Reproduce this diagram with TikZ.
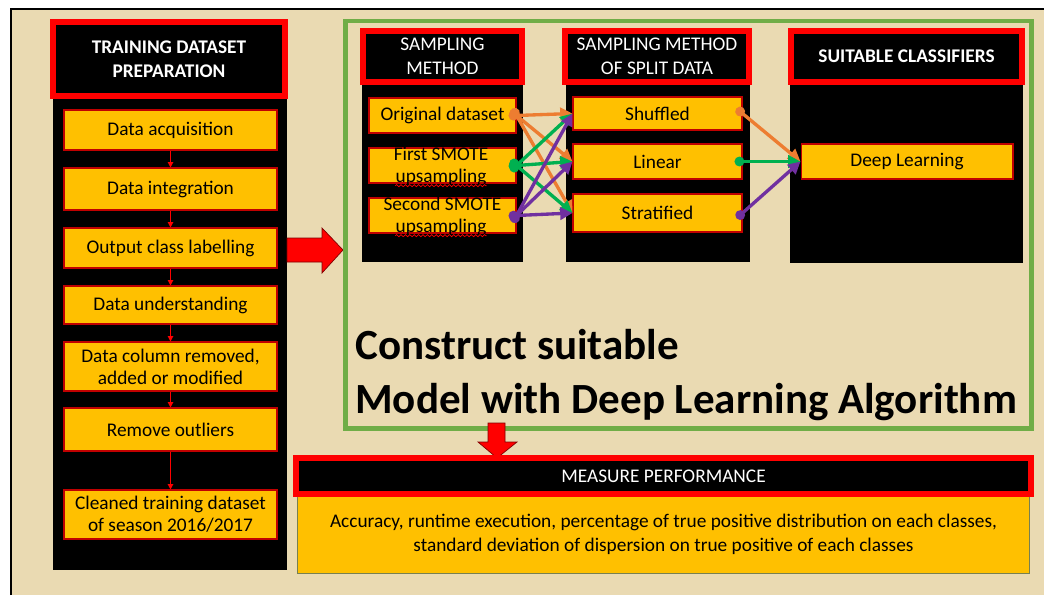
\documentclass[tikz,border=0pt]{standalone}
\usepackage{fontspec}
\setmainfont{Carlito}
\usetikzlibrary{arrows.meta,decorations.pathmorphing}

\begin{document}
\begin{tikzpicture}[x=0.02cm, y=-0.02cm]
  \definecolor{paper}{RGB}{234,218,178}
  \definecolor{gold}{RGB}{255,192,0}
  \definecolor{edgered}{RGB}{192,0,0}
  \definecolor{framegreen}{RGB}{112,173,71}
  \definecolor{bodyedge}{RGB}{120,128,80}
  \definecolor{linkorange}{RGB}{237,125,49}
  \definecolor{linkgreen}{RGB}{0,176,80}
  \definecolor{linkpurple}{RGB}{112,48,160}
  \tikzset{
    txt/.style={font=\fontsize{11}{12.5}\selectfont, align=center},
    hdr/.style={font=\fontsize{11}{13.5}\selectfont, align=center, fill=black, draw=red, line width=0.12cm, text=white, inner sep=0pt},
    stepbox/.style={txt, fill=gold, draw=edgered, line width=0.6pt, inner sep=1pt},
    flow/.style={draw=red, line width=0.6pt, -{Triangle[length=3pt,width=3pt]}},
    link/.style={line width=1.9pt, shorten <=-4.5pt, {Circle[length=5.5pt]}-{Triangle[length=7pt,width=7pt]}},
    wavy/.style={red, line width=0.4pt, decorate, decoration={snake, amplitude=0.6pt, segment length=2.5pt}},
    bigarrow/.style={fill=red, draw=red!50!black, line width=0.4pt},
  }

  % page and paper background
  \useasboundingbox (0,0) rectangle (1044,595);
  \fill[white] (0,0) rectangle (1044,595);
  \fill[paper] (11,9) rectangle (1044,595);
  \draw[line width=0.04cm] (11,595) -- (11,9) -- (1044,9);

  % training dataset preparation column
  \fill[black] (53,96) rectangle (287,570);
  \node[hdr, font=\fontsize{11}{13.5}\selectfont\bfseries, minimum width=4.64cm, minimum height=1.48cm] (prep) at (169,59) {TRAINING DATASET\\PREPARATION};
  \node[stepbox, minimum width=4.26cm, minimum height=0.8cm] (acq) at (170.5,130) {Data acquisition};
  \node[stepbox, minimum width=4.26cm, minimum height=0.84cm] (integ) at (170.5,189) {Data integration};
  \node[stepbox, minimum width=4.26cm, minimum height=0.8cm] (label) at (170.5,248) {Output class labelling};
  \node[stepbox, minimum width=4.26cm, minimum height=0.76cm] (under) at (170.5,305) {Data understanding};
  \node[stepbox, minimum width=4.26cm, minimum height=0.98cm] (modif) at (170.5,366.5) {Data column removed,\\added or modified};
  \node[stepbox, minimum width=4.26cm, minimum height=0.86cm] (outl) at (170.5,429.5) {Remove outliers};
  \node[stepbox, minimum width=4.26cm, minimum height=0.98cm] (clean) at (170.5,514.5) {Cleaned training dataset\\of season 2016/2017};
  \draw[flow] (acq) -- (integ);
  \draw[flow] (integ) -- (label);
  \draw[flow] (label) -- (under);
  \draw[flow] (under) -- (modif);
  \draw[flow] (modif) -- (outl);
  \draw[flow] (outl) -- (clean);

  % arrow into the model block
  \filldraw[bigarrow] (287,238) -- (322,238) -- (322,228) -- (343,250) -- (322,273) -- (322,262) -- (287,262) -- cycle;

  % model block frame
  \draw[framegreen, line width=0.1cm] (345,21) rectangle (1031,428);

  % sampling method
  \fill[black] (362,82) rectangle (523,262);
  \node[hdr, minimum width=3.18cm, minimum height=1.02cm] (samp) at (442.5,56.5) {SAMPLING\\METHOD};
  \node[stepbox, minimum width=2.94cm, minimum height=0.7cm] (orig) at (442.5,115.5) {Original dataset};
  \node[stepbox, minimum width=2.94cm, minimum height=0.7cm] (smoteA) at (442.5,165.5) {};
  \node[txt, anchor=base, inner sep=0pt] (smoteAtop) at (441,160) {First SMOTE};
  \node[txt, anchor=base, inner sep=0pt] (smoteAbot) at (441,182) {upsampling};
  \node[stepbox, minimum width=2.94cm, minimum height=0.7cm] (smoteB) at (442.5,215.5) {};
  \node[txt, anchor=base, inner sep=0pt] (smoteBtop) at (442.5,210) {Second SMOTE};
  \node[txt, anchor=base, inner sep=0pt] (smoteBbot) at (441,232) {upsampling};
  \draw[wavy] (smoteAbot.south west) -- (smoteAbot.south east);
  \draw[wavy] (smoteBbot.south west) -- (smoteBbot.south east);

  % sampling method of split data
  \fill[black] (566,82) rectangle (750,262);
  \node[hdr, minimum width=3.68cm, minimum height=1.02cm] (split) at (657,56.5) {SAMPLING METHOD\\OF SPLIT DATA};
  \node[stepbox, minimum width=3.38cm, minimum height=0.66cm] (shuf) at (657.5,113.5) {Shuffled};
  \node[stepbox, minimum width=3.38cm, minimum height=0.7cm] (lin) at (657.5,161.5) {Linear};
  \node[stepbox, minimum width=3.38cm, minimum height=0.76cm] (strat) at (657.5,213) {Stratified};

  % suitable classifiers
  \fill[black] (790,82) rectangle (1023,263);
  \node[hdr, font=\fontsize{11}{13.5}\selectfont\bfseries, minimum width=4.62cm, minimum height=1.02cm] (clf) at (906.5,56.5) {SUITABLE CLASSIFIERS};
  \node[stepbox, minimum width=4.24cm, minimum height=0.7cm] (deep) at (907,161.5) {Deep Learning};

  % links: sampling -> split
  \draw[link, linkorange] (orig.east) -- (shuf.west);
  \draw[link, linkorange] (orig.east) -- (lin.west);
  \draw[link, linkorange] (orig.east) -- (strat.west);
  \draw[link, linkgreen] (smoteA.east) -- (shuf.west);
  \draw[link, linkgreen] (smoteA.east) -- (lin.west);
  \draw[link, linkgreen] (smoteA.east) -- (strat.west);
  \draw[link, linkpurple] (smoteB.east) -- (shuf.west);
  \draw[link, linkpurple] (smoteB.east) -- (lin.west);
  \draw[link, linkpurple] (smoteB.east) -- (strat.west);
  % links: split -> classifier
  \draw[link, linkorange] (shuf.east) -- (deep.west);
  \draw[link, linkgreen] (lin.east) -- (deep.west);
  \draw[link, linkpurple] (strat.east) -- (deep.west);

  % block title
  \node[anchor=base west, inner sep=0pt, font=\fontsize{24.5}{29}\selectfont\bfseries] (goalA) at (355,359) {Construct suitable};
  \node[anchor=base west, inner sep=0pt, font=\fontsize{24.5}{29}\selectfont\bfseries] (goalB) at (355,413) {Model with Deep Learning Algorithm};

  % arrow down to performance
  \filldraw[bigarrow] (488,423) -- (505,423) -- (505,442) -- (517,442) -- (497,458) -- (478,442) -- (488,442) -- cycle;

  % measure performance
  \node[txt, font=\fontsize{11}{13.7}\selectfont, fill=gold, draw=bodyedge, line width=0.6pt, minimum width=14.66cm, minimum height=1.58cm] (perfbody) at (663.5,534) {Accuracy, runtime execution, percentage of true positive distribution on each classes,\\standard deviation of dispersion on true positive of each classes};
  \node[hdr, minimum width=14.7cm, minimum height=0.72cm] (perf) at (663.5,476) {MEASURE PERFORMANCE};
\end{tikzpicture}
\end{document}
